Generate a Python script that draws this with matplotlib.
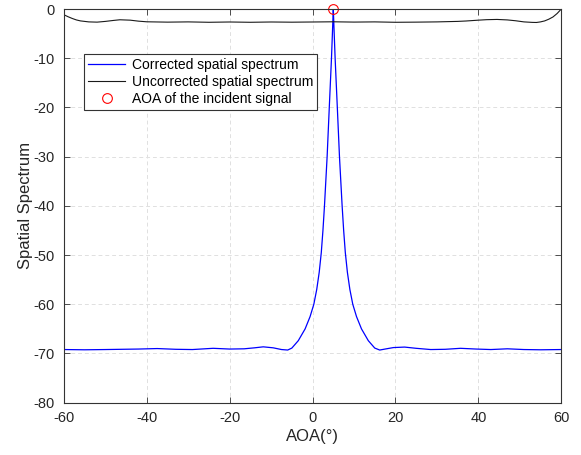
import matplotlib
matplotlib.use("Agg")
import matplotlib.pyplot as plt

plt.rcParams["font.family"] = ["Liberation Sans", "DejaVu Sans"]
plt.rcParams["axes.unicode_minus"] = False

# Corrected spatial spectrum (blue)
aoa_corr = [-60, -55, -50, -46, -42, -37.5, -33, -29, -24, -20, -16.5, -14,
            -11.9, -9.5, -7.5, -6, -5, -3.45, -1.8, -0.6, 0.3, 1.0, 1.6,
            2.1, 2.5, 2.87, 3.51, 4.03, 4.56, 4.8, 4.9, 5.0, 5.1, 5.2, 5.44,
            5.97, 6.49, 7.13, 7.5, 7.9, 8.4, 9.0, 9.7, 10.6, 11.8, 13.45,
            15.0, 16.2, 17.5, 19.5, 22.2, 25, 28.5, 32, 35.7, 39.5, 43, 47,
            51, 55, 60]
spec_corr = [-69.2, -69.25, -69.2, -69.15, -69.1, -69.0, -69.15, -69.2,
             -68.95, -69.1, -69.05, -68.85, -68.65, -68.85, -69.2, -69.3,
             -68.9, -67.4, -65.0, -62.5, -60.0, -57.0, -53.5, -49.5, -45.0,
             -40.0, -30.0, -20.0, -10.0, -4.6, -2.3, 0.0, -2.3, -4.6, -10.0,
             -20.0, -30.0, -40.0, -45.0, -49.5, -53.5, -57.0, -60.0, -62.5,
             -65.0, -67.4, -68.9, -69.3, -69.1, -68.8, -68.7, -68.95, -69.2,
             -69.15, -68.95, -69.1, -69.2, -69.05, -69.2, -69.25, -69.2]

# Uncorrected spatial spectrum (black)
aoa_unc = [-60, -59, -58, -57, -56, -54, -52, -50, -48, -46.5, -44, -42,
           -40, -35, -30, -25, -20, -15, -10, -5, 0, 5, 10, 15, 20, 25, 30,
           35, 37, 40, 42, 44.5, 47, 49, 51, 53, 54, 55, 56, 57, 58, 59, 60]
spec_unc = [-1.15, -1.55, -1.9, -2.2, -2.4, -2.6, -2.65, -2.5, -2.3, -2.17,
            -2.25, -2.45, -2.58, -2.65, -2.6, -2.68, -2.62, -2.68, -2.62,
            -2.66, -2.62, -2.58, -2.64, -2.6, -2.68, -2.65, -2.6, -2.5,
            -2.42, -2.25, -2.15, -2.1, -2.2, -2.37, -2.6, -2.7, -2.72, -2.6,
            -2.4, -2.05, -1.6, -0.9, 0.0]

# incident signal
aoa_true = [5]
spec_true = [0]

fig = plt.figure(figsize=(5.81, 4.55), dpi=100)
ax = fig.add_axes([0.110, 0.115, 0.856, 0.865])

ax.plot(aoa_corr, spec_corr, color="#0000ff", lw=0.9,
        label="Corrected spatial spectrum")
ax.plot(aoa_unc, spec_unc, color="#1a1a1a", lw=0.8,
        label="Uncorrected spatial spectrum")
ax.plot(aoa_true, spec_true, "o", mfc="none", mec="#ff0000", ms=7, mew=0.8,
        clip_on=False, label="AOA of the incident signal")

ax.set_xlim(-60, 60)
ax.set_ylim(-80, 0)
ax.set_xticks(range(-60, 61, 20))
ax.set_yticks(range(-80, 1, 10))
ax.grid(True, ls=(0, (4, 3)), color="#e0e0e0", lw=0.7)
ax.set_axisbelow(True)

for s in ax.spines.values():
    s.set_color("#333333")
    s.set_linewidth(0.8)
ax.tick_params(direction="in", length=4, width=0.6, color="#333333",
               labelcolor="#262626", top=True, right=True, labelsize=10.5)
ax.tick_params(axis="x", pad=6)
ax.tick_params(axis="y", pad=7)

ax.set_xlabel("AOA(°)", fontsize=12, labelpad=3, color="#262626")
ax.set_ylabel("Spatial Spectrum", fontsize=12, labelpad=0, color="#262626")

leg = ax.legend(loc="upper left", bbox_to_anchor=(0.041, 0.886),
                borderaxespad=0, fontsize=10, fancybox=False,
                edgecolor="#333333", framealpha=1, handlelength=2.6,
                handletextpad=0.5, borderpad=0.3, labelspacing=0.2)
leg.get_frame().set_linewidth(0.8)

fig.savefig("out.png", dpi=100)
